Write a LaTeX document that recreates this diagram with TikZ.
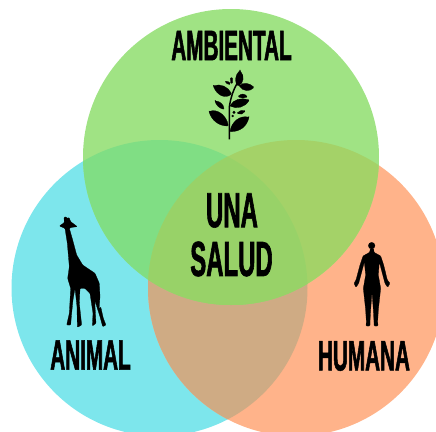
\documentclass[tikz,border=0pt]{standalone}
\usepackage{fontspec}
\newfontfamily\labelfont[FakeStretch=0.485,FakeBold=1.2]{Liberation Sans Bold}
\definecolor{cyancol}{HTML}{7DE6EC}
\definecolor{orangecol}{HTML}{FFB38A}
\definecolor{greencol}{HTML}{A0E384}
\definecolor{cyangreen}{HTML}{80DE84}
\definecolor{orangegreen}{HTML}{A4D268}
\definecolor{cyanorange}{HTML}{CFAB84}
\definecolor{centercol}{HTML}{98D268}
\tikzset{every picture/.style={line width=0.75pt}}
\tikzset{
	smalltitle/.style={inner sep=0pt,font=\labelfont\fontsize{32}{32}\selectfont},
	bigtitle/.style={inner sep=0pt,font=\labelfont\fontsize{37}{37}\selectfont},
	icon/.style={fill=black,draw=black,line width=0.2pt,line join=round,rounded corners=0.6pt}
}
\begin{document}
\begin{tikzpicture}[x=0.75pt,y=0.75pt,yscale=-1,xscale=1]
	\path [use as bounding box] (0,0) rectangle (436,432);
	
	%Circles
	\fill [cyancol] (159.5,288) circle (148);
	\fill [orangecol] (296,288) circle (148);
	\fill [greencol] (231,157) circle (148);
	%Overlaps
	\begin{scope}
		\clip (159.5,288) circle (148);
		\fill [cyanorange] (296,288) circle (148);
		\fill [cyangreen] (231,157) circle (148);
	\end{scope}
	\begin{scope}
		\clip (296,288) circle (148);
		\fill [orangegreen] (231,157) circle (148);
		\clip (159.5,288) circle (148);
		\fill [centercol] (231,157) circle (148);
	\end{scope}
	
	%Plant
	\begin{scope}[shift={(150,0)},scale=1/3]
		\draw [line width=1.1pt] (238,418) -- (238,320) .. controls (242,295) and (250,265) .. (268,240);
		\fill [icon] (270,212) .. controls (252,228) and (255,250) .. (265,258) .. controls (280,250) and (285,228) .. (270,212) -- cycle;
		\fill [icon] (268,258) .. controls (280,245) and (300,250) .. (312,262) .. controls (300,275) and (280,275) .. (268,258) -- cycle;
		\fill [icon] (190,258) .. controls (210,250) and (235,260) .. (245,282) .. controls (225,298) and (200,285) .. (190,258) -- cycle;
		\fill [icon] (240,318) .. controls (250,298) and (275,292) .. (298,300) .. controls (285,322) and (260,328) .. (240,318) -- cycle;
		\fill [icon] (195,303) .. controls (210,303) and (222,315) .. (222,328) .. controls (208,325) and (198,315) .. (195,303) -- cycle;
		\fill [icon] (265,290) .. controls (272,280) and (285,280) .. (292,291) .. controls (282,295) and (272,295) .. (265,290) -- cycle;
		\fill [icon] (177,335) .. controls (200,325) and (230,345) .. (235,378) .. controls (205,378) and (185,360) .. (177,335) -- cycle;
		\fill [icon] (297,352) .. controls (270,345) and (245,365) .. (240,395) .. controls (270,395) and (290,380) .. (297,352) -- cycle;
		\fill [icon] (225,243) -- (238,246) -- (241,254) -- (230,251) -- cycle;
		\fill [icon] (241,233) -- (248,233) -- (248,250) -- (242,250) -- cycle;
		\fill [icon] (262,340) .. controls (270,330) and (280,330) .. (286,333) .. controls (280,342) and (270,345) .. (262,340) -- cycle;
		\fill [icon] (252,337) circle (4);
		\fill [icon] (248,348) circle (3);
	\end{scope}
	
	%Giraffe
	\begin{scope}[shift={(30,200)},scale=1/3]
		\fill [icon] (88,78) -- (103,68) -- (102,52) -- (108,50) -- (112,56) -- (117,52) -- (122,65) -- (142,80) -- (125,82) -- (118,85) -- (128,120) -- (140,165) -- (158,195) -- (195,220) -- (208,250) -- (210,290) -- (207,330) -- (212,320) -- (220,355) -- (228,375) -- (218,380) -- (210,350) -- (194,300) -- (198,370) -- (187,378) -- (189,340) -- (180,280) -- (165,265) -- (150,265) -- (148,310) -- (155,375) -- (142,382) -- (141,320) -- (135,265) -- (129,300) -- (124,350) -- (122,375) -- (110,375) -- (118,340) -- (122,265) -- (113,235) -- (118,200) -- (112,130) -- (105,85) -- cycle;
	\end{scope}
	
	%Human
	\begin{scope}[shift={(310,230)},scale=1/3]
		\fill [icon] (185,47) circle (10);
		\fill [icon] (181,56) -- (191,56) -- (192,67) -- (212,78) -- (221,105) -- (232,150) -- (240,160) -- (233,172) -- (225,160) -- (213,115) -- (208,95) -- (205,135) -- (212,175) -- (205,240) -- (203,275) -- (204,288) -- (192,288) -- (192,275) -- (190,240) -- (186,185) -- (182,240) -- (180,275) -- (180,288) -- (168,288) -- (169,275) -- (167,240) -- (160,175) -- (167,135) -- (163,95) -- (158,115) -- (146,160) -- (138,172) -- (132,160) -- (138,150) -- (150,105) -- (159,78) -- (179,67) -- cycle;
	\end{scope}
	
	% Text Node
	\node (ambiental) [smalltitle] at (231.5,45.5) {AMBIENTAL};
	% Text Node
	\node (una) [bigtitle] at (232,210.5) {UNA};
	% Text Node
	\node (salud) [bigtitle] at (231.5,259) {SALUD};
	% Text Node
	\node (animal) [smalltitle] at (90.5,355) {ANIMAL};
	% Text Node
	\node (humana) [smalltitle] at (364,356) {HUMANA};
\end{tikzpicture}
\end{document}
